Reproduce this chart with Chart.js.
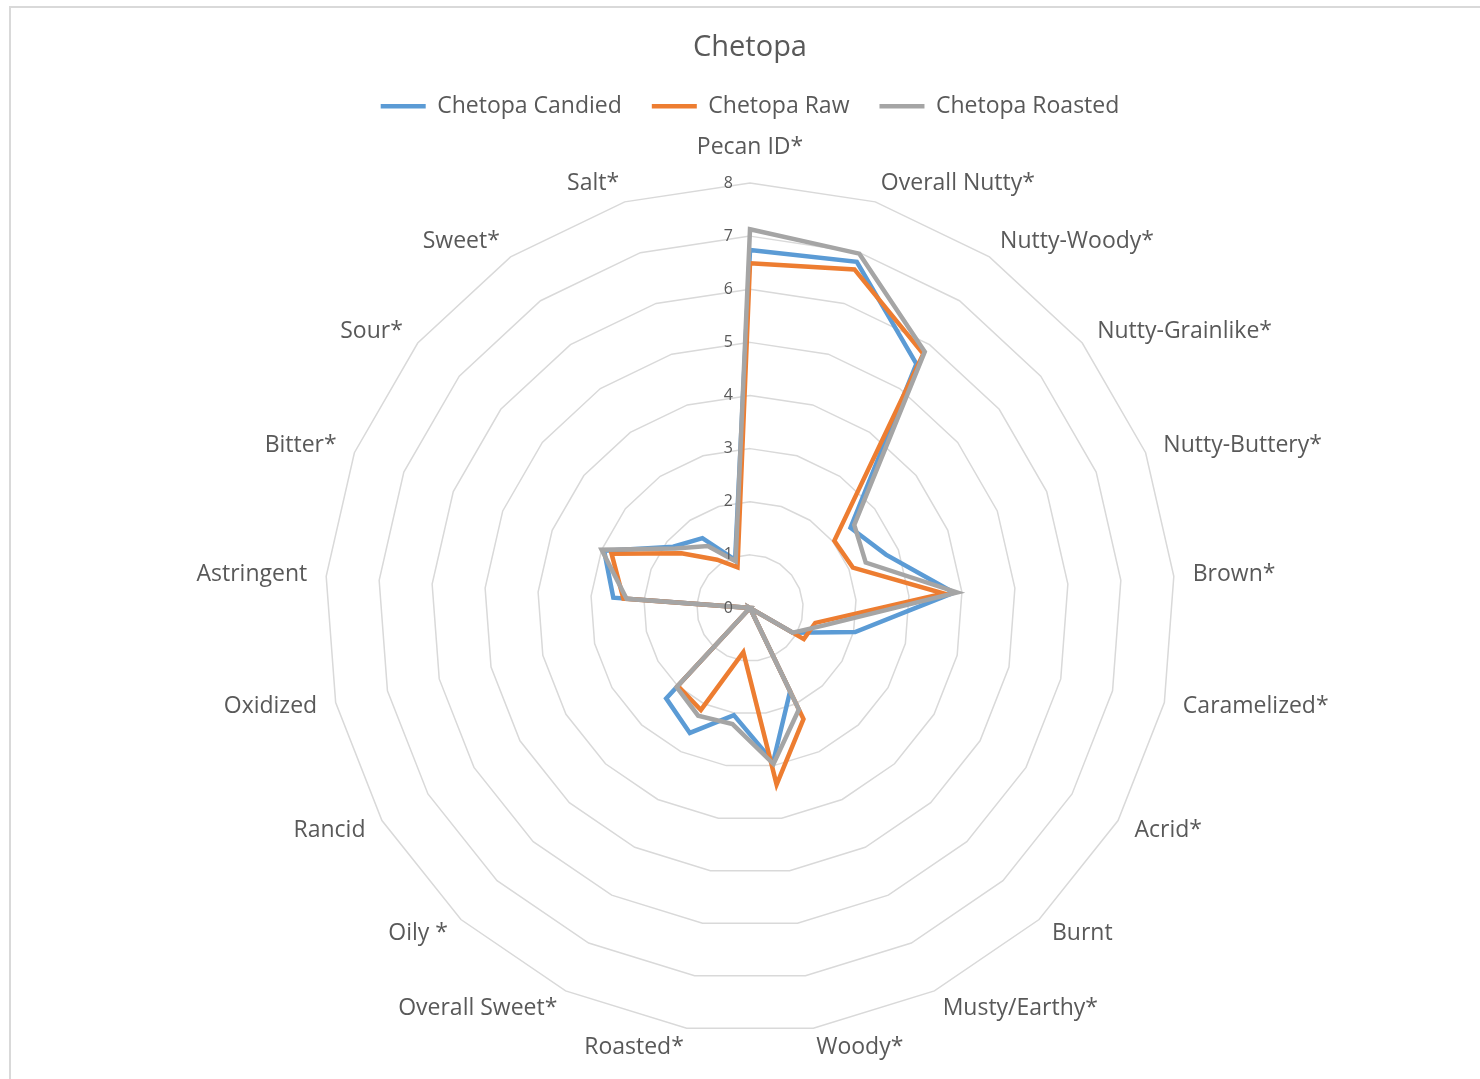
<!DOCTYPE html>
<html>
<head>
<meta charset="utf-8">
<title>Chetopa</title>
<script src="https://cdn.jsdelivr.net/npm/chart.js@4.4.1/dist/chart.umd.min.js"></script>
<style>
  html, body { margin: 0; padding: 0; background: #fff; overflow: hidden; }
  #wrap { position: relative; width: 1480px; height: 1079px; overflow: hidden; }
  #frame { position: absolute; left: 9px; top: 6px; width: 1500px; height: 1100px; border: 2px solid #d9d9d9; pointer-events: none; }
</style>
</head>
<body>
<div id="wrap">
  <canvas id="radar" width="1480" height="1089"></canvas>
  <div id="frame"></div>
</div>
<script>
// sensory attributes, clockwise from the top
const attributes = [
  "Pecan ID*", "Overall Nutty*", "Nutty-Woody*", "Nutty-Grainlike*", "Nutty-Buttery*",
  "Brown*", "Caramelized*", "Acrid*", "Burnt", "Musty/Earthy*", "Woody*", "Roasted*",
  "Overall Sweet*", "Oily *", "Rancid", "Oxidized", "Astringent", "Bitter*", "Sour*",
  "Sweet*", "Salt*"
];

const seriesNames = ["Chetopa Candied", "Chetopa Raw", "Chetopa Roasted"];

const candied = [6.74, 6.82, 5.56, 2.42, 2.75, 3.85, 2.03, 0.93, 0, 1.74, 2.93, 2.04, 2.61, 2.32, 0, 0, 2.58, 2.95, 1.85, 1.59, 0.95];
const raw     = [6.49, 6.67, 5.79, 2.03, 2.08, 3.66, 1.26, 1.17, 0, 2.32, 3.36, 0.84, 2.13, 2.0, 0, 0, 2.39, 2.8, 1.65, 1.1, 0.8];
const roasted = [7.13, 6.98, 5.84, 2.51, 2.34, 3.91, 1.45, 0.93, 0, 2.12, 2.97, 2.21, 2.25, 2.03, 0, 0, 2.33, 3.0, 1.8, 1.41, 0.92];

const tickValues = [0, 1, 2, 3, 4, 5, 6, 7, 8];

const BLUE = "#5B9BD5";
const ORANGE = "#ED7D31";
const GRAY = "#A5A5A5";
const TEXT = "#595959";
const FONT = "'Open Sans', sans-serif";

// value ticks beside the vertical spoke and the category names round the rim
const outerLabels = {
  id: "outerLabels",
  afterDraw(chart) {
    const r = chart.scales.r;
    const c = chart.ctx;
    c.save();
    c.fillStyle = TEXT;

    c.font = "16px " + FONT;
    c.textAlign = "right";
    c.textBaseline = "middle";
    tickValues.forEach((v) => {
      c.fillText(String(v), r.xCenter - 17, r.yCenter - r.getDistanceFromCenterForValue(v));
    });

    c.font = "23px " + FONT;
    c.textBaseline = "middle";
    attributes.forEach((name, i) => {
      const a = r.getIndexAngle(i);
      const s = Math.sin(a);
      const p = r.getPointPosition(i, r.drawingArea + 19);
      let y = p.y;
      if (Math.abs(s) < 0.01) {
        c.textAlign = "center";
        y -= Math.cos(a) * 17;
      } else {
        c.textAlign = s > 0 ? "left" : "right";
      }
      c.fillText(name, p.x, y);
    });
    c.restore();
  },
};

function line(label, data, color, order) {
  return {
    label,
    data,
    borderColor: color,
    backgroundColor: color,
    borderWidth: 4.5,
    pointRadius: 0,
    pointHoverRadius: 0,
    pointBorderWidth: 4.5,
    pointBorderColor: color,
    fill: false,
    tension: 0,
    order,
  };
}

function draw() {
  new Chart(document.getElementById("radar").getContext("2d"), {
    type: "radar",
    data: {
      labels: attributes,
      datasets: [
        line(seriesNames[0], candied, BLUE, 3),
        line(seriesNames[1], raw, ORANGE, 2),
        line(seriesNames[2], roasted, GRAY, 1),
      ],
    },
    options: {
      responsive: false,
      animation: false,
      layout: { padding: { top: 20, left: 325, right: 305, bottom: 0 } },
      plugins: {
        title: {
          display: true,
          text: "Chetopa",
          color: TEXT,
          font: { family: FONT, size: 29, weight: "normal" },
          padding: { top: 10, bottom: 0 },
        },
        legend: {
          position: "top",
          labels: {
            color: TEXT,
            font: { family: FONT, size: 23 },
            usePointStyle: true,
            pointStyle: "line",
            pointStyleWidth: 45,
            padding: 30,
            sort: (a, b) => a.datasetIndex - b.datasetIndex,
          },
        },
        tooltip: { enabled: false },
      },
      scales: {
        r: {
          min: 0,
          max: 8,
          ticks: { stepSize: 1, display: false },
          grid: { color: "#d9d9d9", lineWidth: 1.5 },
          angleLines: { display: false },
          pointLabels: { display: false },
        },
      },
    },
    plugins: [outerLabels],
  });
}

document.fonts.load("23px 'Open Sans'").then(draw, draw);
</script>
</body>
</html>
